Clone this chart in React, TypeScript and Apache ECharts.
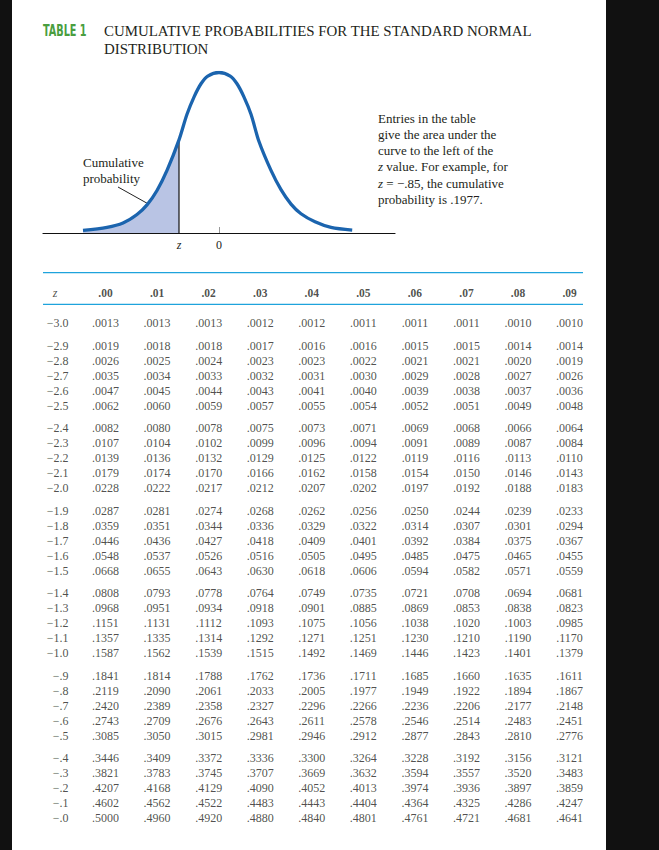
import { useEffect, useRef } from "react";
import * as echarts from "echarts";

const colHeaders = [".00", ".01", ".02", ".03", ".04", ".05", ".06", ".07", ".08", ".09"];

const zLabels = [
  "−3.0",
  "−2.9", "−2.8", "−2.7", "−2.6", "−2.5",
  "−2.4", "−2.3", "−2.2", "−2.1", "−2.0",
  "−1.9", "−1.8", "−1.7", "−1.6", "−1.5",
  "−1.4", "−1.3", "−1.2", "−1.1", "−1.0",
  "−.9", "−.8", "−.7", "−.6", "−.5",
  "−.4", "−.3", "−.2", "−.1", "−.0",
];

const probRows = [
  [".0013", ".0013", ".0013", ".0012", ".0012", ".0011", ".0011", ".0011", ".0010", ".0010"],
  [".0019", ".0018", ".0018", ".0017", ".0016", ".0016", ".0015", ".0015", ".0014", ".0014"],
  [".0026", ".0025", ".0024", ".0023", ".0023", ".0022", ".0021", ".0021", ".0020", ".0019"],
  [".0035", ".0034", ".0033", ".0032", ".0031", ".0030", ".0029", ".0028", ".0027", ".0026"],
  [".0047", ".0045", ".0044", ".0043", ".0041", ".0040", ".0039", ".0038", ".0037", ".0036"],
  [".0062", ".0060", ".0059", ".0057", ".0055", ".0054", ".0052", ".0051", ".0049", ".0048"],
  [".0082", ".0080", ".0078", ".0075", ".0073", ".0071", ".0069", ".0068", ".0066", ".0064"],
  [".0107", ".0104", ".0102", ".0099", ".0096", ".0094", ".0091", ".0089", ".0087", ".0084"],
  [".0139", ".0136", ".0132", ".0129", ".0125", ".0122", ".0119", ".0116", ".0113", ".0110"],
  [".0179", ".0174", ".0170", ".0166", ".0162", ".0158", ".0154", ".0150", ".0146", ".0143"],
  [".0228", ".0222", ".0217", ".0212", ".0207", ".0202", ".0197", ".0192", ".0188", ".0183"],
  [".0287", ".0281", ".0274", ".0268", ".0262", ".0256", ".0250", ".0244", ".0239", ".0233"],
  [".0359", ".0351", ".0344", ".0336", ".0329", ".0322", ".0314", ".0307", ".0301", ".0294"],
  [".0446", ".0436", ".0427", ".0418", ".0409", ".0401", ".0392", ".0384", ".0375", ".0367"],
  [".0548", ".0537", ".0526", ".0516", ".0505", ".0495", ".0485", ".0475", ".0465", ".0455"],
  [".0668", ".0655", ".0643", ".0630", ".0618", ".0606", ".0594", ".0582", ".0571", ".0559"],
  [".0808", ".0793", ".0778", ".0764", ".0749", ".0735", ".0721", ".0708", ".0694", ".0681"],
  [".0968", ".0951", ".0934", ".0918", ".0901", ".0885", ".0869", ".0853", ".0838", ".0823"],
  [".1151", ".1131", ".1112", ".1093", ".1075", ".1056", ".1038", ".1020", ".1003", ".0985"],
  [".1357", ".1335", ".1314", ".1292", ".1271", ".1251", ".1230", ".1210", ".1190", ".1170"],
  [".1587", ".1562", ".1539", ".1515", ".1492", ".1469", ".1446", ".1423", ".1401", ".1379"],
  [".1841", ".1814", ".1788", ".1762", ".1736", ".1711", ".1685", ".1660", ".1635", ".1611"],
  [".2119", ".2090", ".2061", ".2033", ".2005", ".1977", ".1949", ".1922", ".1894", ".1867"],
  [".2420", ".2389", ".2358", ".2327", ".2296", ".2266", ".2236", ".2206", ".2177", ".2148"],
  [".2743", ".2709", ".2676", ".2643", ".2611", ".2578", ".2546", ".2514", ".2483", ".2451"],
  [".3085", ".3050", ".3015", ".2981", ".2946", ".2912", ".2877", ".2843", ".2810", ".2776"],
  [".3446", ".3409", ".3372", ".3336", ".3300", ".3264", ".3228", ".3192", ".3156", ".3121"],
  [".3821", ".3783", ".3745", ".3707", ".3669", ".3632", ".3594", ".3557", ".3520", ".3483"],
  [".4207", ".4168", ".4129", ".4090", ".4052", ".4013", ".3974", ".3936", ".3897", ".3859"],
  [".4602", ".4562", ".4522", ".4483", ".4443", ".4404", ".4364", ".4325", ".4286", ".4247"],
  [".5000", ".4960", ".4920", ".4880", ".4840", ".4801", ".4761", ".4721", ".4681", ".4641"],
];

// Curve of the illustration (z position, relative height)
const curveZ = [-3.4, -2.8, -2.4, -2.05, -1.8, -1.55, -1.3, -1.0, -0.8, -0.62, -0.45, -0.28, 0, 0.28, 0.45, 0.62, 0.8, 1.0, 1.3, 1.55, 1.8, 2.05, 2.4, 2.8, 3.33];
const curveH = [0.016, 0.035, 0.062, 0.115, 0.175, 0.265, 0.39, 0.58, 0.74, 0.85, 0.93, 0.978, 1.0, 0.978, 0.93, 0.85, 0.74, 0.57, 0.39, 0.27, 0.18, 0.12, 0.07, 0.035, 0.018];
const zMark = -1.0;

const INK = "#231f20";
const SERIF = "'Liberation Serif', 'Times New Roman', serif";

function rowPos(r: number) {
  const group = r === 0 ? 0 : Math.floor((r - 1) / 5) + 1;
  return r + group * 0.5;
}

export default function App() {
  const ref = useRef<HTMLDivElement>(null);
  useEffect(() => {
    const chart = echarts.init(ref.current!, null, { renderer: "svg" });

    const curveData = curveZ.map((z, i) => [z, curveH[i]]);
    const shadedData = curveData.filter((p) => p[0] <= zMark);
    const zMarkH = curveH[curveZ.indexOf(zMark)];

    const headerData = colHeaders.map((h, i) => [i, -2, h]);
    const zData = zLabels.map((l, r) => [-0.72, rowPos(r), l]);
    const valData: any[] = [];
    probRows.forEach((row, r) => row.forEach((v, c) => valData.push([c, rowPos(r), v])));

    const textLabel = (extra: any) => ({
      show: true,
      position: "inside",
      formatter: (p: any) => p.value[2],
      color: INK,
      fontFamily: SERIF,
      fontSize: 12,
      ...extra,
    });

    const scatterBase = {
      type: "scatter",
      xAxisIndex: 1,
      yAxisIndex: 1,
      symbolSize: 1,
      silent: true,
      itemStyle: { color: "rgba(0,0,0,0)" },
    };

    const option: any = {
      animation: false,
      backgroundColor: "#ffffff",
      grid: [
        { left: 43, top: 72.5, width: 352, height: 160.5 },
        { left: 54, top: 293, width: 515.6, height: 525 },
      ],
      xAxis: [
        {
          type: "value",
          gridIndex: 0,
          min: -4.4,
          max: 4.4,
          splitLine: { show: false },
          axisLine: { show: true, onZero: false, lineStyle: { color: "#111", width: 1.2 } },
          axisTick: { show: true, customValues: [0], inside: true, length: 6, lineStyle: { color: "#999", width: 1 } },
          axisLabel: {
            show: true,
            customValues: [zMark, 0],
            margin: 6,
            color: INK,
            fontFamily: SERIF,
            fontSize: 12,
            formatter: (v: number) => (v === 0 ? "0" : "{i|z}"),
            rich: { i: { fontStyle: "italic", fontFamily: SERIF, fontSize: 12, color: INK } },
          },
        },
        { type: "value", gridIndex: 1, min: -1, max: 9, show: false },
      ],
      yAxis: [
        { type: "value", gridIndex: 0, min: 0, max: 1, show: false },
        { type: "value", gridIndex: 1, min: -2, max: 33, inverse: true, show: false },
      ],
      series: [
        {
          type: "line",
          xAxisIndex: 0,
          yAxisIndex: 0,
          data: shadedData,
          smooth: 0.3,
          symbol: "none",
          silent: true,
          lineStyle: { width: 0 },
          areaStyle: { color: "#b9c4e4", opacity: 1 },
        },
        {
          type: "line",
          xAxisIndex: 0,
          yAxisIndex: 0,
          data: [
            [zMark, 0],
            [zMark, zMarkH],
          ],
          symbol: "none",
          silent: true,
          lineStyle: { color: "#111", width: 1.2 },
        },
        {
          type: "line",
          xAxisIndex: 0,
          yAxisIndex: 0,
          data: curveData,
          smooth: 0.3,
          symbol: "none",
          silent: true,
          lineStyle: { color: "#1b64ae", width: 3.3 },
        },
        {
          ...scatterBase,
          data: headerData,
          label: textLabel({ fontWeight: "bold", fontSize: 11.5 }),
        },
        {
          ...scatterBase,
          data: [[-0.98, -2, "z"]],
          label: textLabel({ fontStyle: "italic" }),
        },
        {
          ...scatterBase,
          data: zData,
          label: textLabel({ align: "right" }),
        },
        {
          ...scatterBase,
          data: valData,
          label: textLabel({}),
        },
      ],
      graphic: [
        { type: "rect", shape: { x: 0, y: 0, width: 12, height: 850 }, style: { fill: "#111" } },
        { type: "rect", shape: { x: 606, y: 0, width: 53, height: 850 }, style: { fill: "#111" } },
        {
          type: "text",
          x: 43,
          y: 31,
          scaleX: 0.72,
          style: {
            text: "TABLE 1",
            fill: "#4a9e3f",
            fontFamily: "'DejaVu Sans Condensed', 'Liberation Sans', sans-serif",
            fontWeight: "bold",
            fontSize: 15,
            verticalAlign: "middle",
          },
        },
        {
          type: "text",
          x: 104,
          y: 22,
          style: {
            text: "CUMULATIVE PROBABILITIES FOR THE STANDARD NORMAL\nDISTRIBUTION",
            fill: INK,
            fontFamily: SERIF,
            fontSize: 14.9,
            lineHeight: 18.3,
            verticalAlign: "top",
          },
        },
        {
          type: "text",
          x: 83,
          y: 154,
          style: {
            text: "Cumulative\nprobability",
            fill: INK,
            fontFamily: SERIF,
            fontSize: 13,
            lineHeight: 16,
            verticalAlign: "top",
          },
        },
        {
          type: "text",
          x: 378,
          y: 110.2,
          style: {
            text:
              "Entries in the table\ngive the area under the\ncurve to the left of the\n{i|z} value. For example, for\n{i|z} = −.85, the cumulative\nprobability is .1977.",
            fill: INK,
            fontFamily: SERIF,
            fontSize: 13,
            lineHeight: 16.2,
            verticalAlign: "top",
            rich: { i: { fontStyle: "italic", fontFamily: SERIF, fontSize: 13, fill: INK, lineHeight: 16.2 } },
          },
        },
        {
          type: "line",
          shape: { x1: 118, y1: 187, x2: 152, y2: 206 },
          style: { stroke: "#222", lineWidth: 1 },
        },
        {
          type: "polygon",
          shape: { points: [[159, 210], [149.4, 208.7], [152.9, 202.5]] },
          style: { fill: "#222" },
        },
        {
          type: "line",
          shape: { x1: 43, y1: 272.7, x2: 583, y2: 272.7 },
          style: { stroke: "#1ea3dc", lineWidth: 1.3 },
        },
        {
          type: "line",
          shape: { x1: 43, y1: 304.3, x2: 583, y2: 304.3 },
          style: { stroke: "#1ea3dc", lineWidth: 1.3 },
        },
      ],
    };

    chart.setOption(option);
    return () => chart.dispose();
  }, []);

  return <div ref={ref} style={{ position: "fixed", left: 0, top: 0, width: 659, height: 850 }} />;
}
